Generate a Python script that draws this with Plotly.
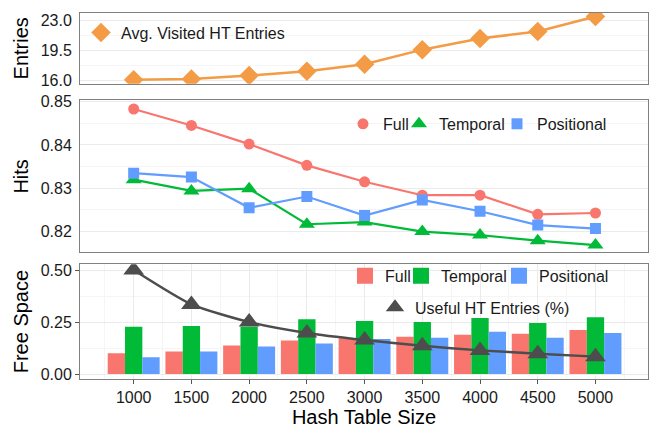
import plotly.graph_objects as go

sizes = [1000, 1500, 2000, 2500, 3000, 3500, 4000, 4500, 5000]
avg_visited = [16.1, 16.2, 16.6, 17.1, 17.9, 19.6, 20.9, 21.7, 23.45]
hits_full = [0.8483, 0.8445, 0.8402, 0.8353, 0.8315, 0.8284, 0.8284, 0.8240, 0.8243]
hits_temporal = [0.8320, 0.8294, 0.8299, 0.8217, 0.8222, 0.8200, 0.8192, 0.8179, 0.8169]
hits_positional = [0.8335, 0.8326, 0.8255, 0.8281, 0.8237, 0.8273, 0.8247, 0.8215, 0.8207]
free_full = [0.100, 0.109, 0.137, 0.161, 0.172, 0.180, 0.189, 0.194, 0.212]
free_temporal = [0.227, 0.231, 0.228, 0.264, 0.255, 0.250, 0.269, 0.245, 0.273]
free_positional = [0.081, 0.109, 0.133, 0.147, 0.169, 0.175, 0.203, 0.175, 0.198]
useful_entries = [0.50, 0.335, 0.25, 0.198, 0.164, 0.136, 0.114, 0.098, 0.084]

entries_ticks = [16.0, 19.5, 23.0]
entries_labels = ["16.0", "19.5", "23.0"]
hits_ticks = [0.82, 0.83, 0.84, 0.85]
hits_labels = ["0.82", "0.83", "0.84", "0.85"]
free_ticks = [0.0, 0.25, 0.5]
free_labels = ["0.00", "0.25", "0.50"]

C_FULL = "#F8766D"
C_TEMP = "#00BA38"
C_POS = "#619CFF"
C_ORANGE = "#F39B45"
C_GRAY = "#4D4D4D"
FONT = "Liberation Sans, Arial, sans-serif"

fig = go.Figure()

# ---- legend proxies (added right-to-left so left legends are drawn on top) ----
fig.add_trace(go.Scatter(x=[None], y=[None], mode="markers", xaxis="x", yaxis="y",
                         marker=dict(symbol="diamond", size=15, color=C_ORANGE),
                         name="Avg. Visited HT Entries", legend="legend"))
for sym, sz, col, nm, lg in [
    ("square", 11, C_POS, "Positional", "legend2"),
    ("triangle-up", 14, C_TEMP, "Temporal", "legend3"),
    ("circle", 11, C_FULL, "Full", "legend4"),
]:
    fig.add_trace(go.Scatter(x=[None], y=[None], mode="markers", xaxis="x2", yaxis="y2",
                             marker=dict(symbol=sym, size=sz, color=col), name=nm, legend=lg))
for col, nm, lg in [
    (C_POS, "Positional", "legend5"),
    (C_TEMP, "Temporal", "legend6"),
    (C_FULL, "Full", "legend7"),
]:
    fig.add_trace(go.Bar(x=[None], y=[None], marker=dict(color=col, line=dict(width=4, color=col)),
                         xaxis="x3", yaxis="y3", name=nm, legend=lg))
fig.add_trace(go.Scatter(x=[None], y=[None], mode="markers", xaxis="x3", yaxis="y3",
                         marker=dict(symbol="triangle-up", size=18, color=C_GRAY),
                         name="Useful HT Entries (%)", legend="legend8"))

# ---- Panel 1 ----
fig.add_trace(go.Scatter(x=sizes, y=avg_visited, mode="lines+markers", xaxis="x", yaxis="y",
                         line=dict(color=C_ORANGE, width=2.5),
                         marker=dict(symbol="diamond", size=15, color=C_ORANGE),
                         showlegend=False))

# ---- Panel 2 ----
for vals, col, sym, sz in [
    (hits_full, C_FULL, "circle", 11),
    (hits_temporal, C_TEMP, "triangle-up", 14),
    (hits_positional, C_POS, "square", 11),
]:
    fig.add_trace(go.Scatter(x=sizes, y=vals, mode="lines+markers", xaxis="x2", yaxis="y2",
                             line=dict(color=col, width=2.2),
                             marker=dict(symbol=sym, size=sz, color=col), showlegend=False))

# ---- Panel 3 ----
for vals, col, off in [
    (free_full, C_FULL, -225),
    (free_temporal, C_TEMP, -75),
    (free_positional, C_POS, 75),
]:
    fig.add_trace(go.Bar(x=sizes, y=vals, width=150, offset=off, marker=dict(color=col, line=dict(width=0)),
                         xaxis="x3", yaxis="y3", showlegend=False))
fig.add_trace(go.Scatter(x=sizes, y=useful_entries, mode="lines+markers", xaxis="x3", yaxis="y3",
                         line=dict(color=C_GRAY, width=2.5, shape="spline", smoothing=0.6),
                         marker=dict(symbol="triangle-up", size=18, color=C_GRAY), showlegend=False))

XR = [535, 5455]
L, R, T, B = 80, 9, 6, 51
W, H = 657, 430
PW = W - L - R
PH = H - T - B


def px_x(px):
    return (px - L) / PW


def px_y(py):
    return (H - B - py) / PH


axis_common = dict(showline=True, linecolor="#808080", linewidth=1, mirror=True, zeroline=False,
                   tickfont=dict(family=FONT, size=16, color="#1a1a1a"))

grid_major = "#EBEBEB"
grid_minor = "#F5F5F5"

fig.update_layout(
    width=W, height=H,
    margin=dict(l=L, r=R, t=T, b=B),
    paper_bgcolor="white", plot_bgcolor="white",
    font=dict(family=FONT, size=16, color="#1a1a1a"),
    barmode="overlay",
    xaxis=dict(domain=[0, 1], anchor="y", range=XR, showticklabels=False, ticks="", showgrid=False,
               matches="x3", **axis_common),
    xaxis2=dict(domain=[0, 1], anchor="y2", range=XR, showticklabels=False, ticks="", showgrid=False,
                matches="x3", **axis_common),
    xaxis3=dict(domain=[0, 1], anchor="y3", range=XR, tickvals=sizes, ticktext=[str(s) for s in sizes],
                ticks="outside", ticklen=4, tickcolor="#555555", showgrid=True, gridcolor=grid_major,
                minor=dict(tickvals=[s + 250 for s in sizes] + [750], showgrid=True, gridcolor=grid_minor, ticks=""),
                title=dict(text="Hash Table Size", font=dict(family=FONT, size=20, color="black"), standoff=2),
                **axis_common),
    yaxis=dict(domain=[px_y(78), 1], anchor="x", range=[15.66, 23.85], tickvals=entries_ticks,
               ticktext=entries_labels, ticks="outside", ticklen=4, tickcolor="rgba(0,0,0,0)",
               showgrid=True, gridcolor=grid_major,
               minor=dict(tickvals=[17.75, 21.25], showgrid=True, gridcolor=grid_minor, ticks=""),
               title=dict(text="Entries", font=dict(family=FONT, size=20, color="black"), standoff=6),
               **axis_common),
    yaxis2=dict(domain=[px_y(250), px_y(95)], anchor="x2", range=[0.8152, 0.8503], tickvals=hits_ticks,
                ticktext=hits_labels, ticks="outside", ticklen=4, tickcolor="rgba(0,0,0,0)",
                showgrid=True, gridcolor=grid_major,
                minor=dict(tickvals=[0.825, 0.835, 0.845], showgrid=True, gridcolor=grid_minor, ticks=""),
                title=dict(text="Hits", font=dict(family=FONT, size=20, color="black"), standoff=6),
                **axis_common),
    yaxis3=dict(domain=[0, px_y(262)], anchor="x3", range=[-0.0235, 0.528], tickvals=free_ticks,
                ticktext=free_labels, ticks="outside", ticklen=4, tickcolor="#555555",
                showgrid=True, gridcolor=grid_major,
                minor=dict(tickvals=[0.125, 0.375], showgrid=True, gridcolor=grid_minor, ticks=""),
                title=dict(text="Free Space", font=dict(family=FONT, size=20, color="black"), standoff=6),
                **axis_common),
)

leg_base = dict(bgcolor="rgba(0,0,0,0)", borderwidth=0, font=dict(family=FONT, size=16, color="#1a1a1a"),
                itemwidth=30, xanchor="left", yanchor="middle", orientation="v", itemclick=False,
                itemdoubleclick=False, tracegroupgap=0)
# (text start px, center y px)
leg_pos = {
    "legend": (121, 26),
    "legend4": (383, 119),
    "legend3": (439, 119),
    "legend2": (537, 119),
    "legend7": (385, 274),
    "legend6": (441, 274),
    "legend5": (539, 274),
    "legend8": (415, 306),
}
for k, (tx, ty) in leg_pos.items():
    fig.update_layout({k: dict(x=px_x(tx - 40), y=px_y(ty), **leg_base)})

fig.write_html("out.html", config={"displayModeBar": False},
               post_script="document.body.style.margin='0';document.body.style.padding='0';")
